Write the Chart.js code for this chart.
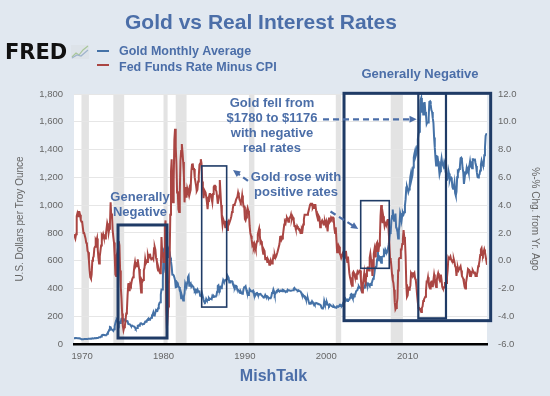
<!DOCTYPE html>
<html>
<head>
<meta charset="utf-8">
<script src="https://cdn.jsdelivr.net/npm/chart.js@4.4.1/dist/chart.umd.min.js"></script>
<style>
  html, body { margin: 0; padding: 0; background: #e1e8f0; }
  canvas { display: block; }
</style>
</head>
<body>
<canvas id="chart" width="550" height="396"></canvas>
<script>
// monthly series, first value = Jan 1969
const startYear = 1969;

// Gold monthly average, USD per troy ounce
const gold = [
  42.3,42.6,43.3,43.5,43.5,41.3,41.8,41.0,40.8,40.4,37.4,35.2,
  34.9,35.0,35.1,35.6,35.5,35.4,35.3,35.4,36.2,37.5,37.4,37.4,
  37.9,38.7,38.9,39.0,40.5,40.1,41.0,42.7,42.0,42.5,42.9,43.5,
  45.8,48.3,48.3,49.0,54.6,62.1,65.7,67.0,65.5,64.9,62.9,63.9,
  65.1,74.2,84.4,90.5,102,122.5,120.2,106.8,103,100.1,94.8,106.7,
  129.2,150.2,168.4,172.2,163.3,154.1,142.9,154.6,151.8,158.8,181.7,183.9,
  176.3,179.6,178.2,170,167,164.2,165.1,163.1,144.1,142.8,142.4,139.3,
  131.6,130.7,132.6,128.2,127,125.8,117.8,109.6,114.4,116,130.5,133.7,
  132.3,136.3,148.3,149.2,146.8,140.8,143.3,145,149.6,160.8,161.8,160.5,
  173.2,178.2,183.7,175.2,176.3,183.7,188.5,206.5,212.3,227.6,206.1,207.8,
  227.3,245.7,242.1,239.2,257.6,279.4,295,300.8,355.1,392,392.3,455.1,
  675,665,553,517,513,600,645,627,674,661,623,595,
  557,500,499,495,479,460,409,410,443,437,413,410,
  384,374,330,350,333,314,340,365,436,422,415,445,
  481,491,420,432,438,413,422,416,412,394,382,388,
  370,386,394,381,377,378,347,348,341,340,341,321,
  303,299,304,325,316,317,317,330,323,326,325,322,
  345,339,346,340,342,343,348,376,418,423,398,391,
  408,401,409,438,460,450,450,460,460,465,467,486,
  477,442,444,452,451,451,437,431,413,406,420,419,
  404,388,390,384,371,367,375,365,362,367,394,409,
  410,416,393,374,369,352,362,395,389,381,381,378,
  383,364,363,358,357,367,368,356,349,358,360,361,
  354,354,344,338,337,340,353,343,345,344,335,334,
  329,330,330,342,367,372,392,378,355,364,373,383,
  387,382,384,377,381,385,385,380,391,389,384,379,
  379,377,382,391,385,387,386,383,383,383,386,387,
  399,404,396,393,392,385,383,387,383,381,378,369,
  355,347,352,344,344,341,324,324,323,325,306,289,
  289,297,296,308,299,292,293,284,289,296,294,291,
  287,288,286,282,277,261,256,257,265,311,293,283,
  284,300,286,280,275,285,282,275,273,270,266,272,
  265,262,263,261,272,270,268,273,283,283,276,275,
  282,296,294,302,314,321,314,310,319,317,319,333,
  356,359,340,328,355,356,351,360,379,379,389,407,
  414,405,406,404,384,392,398,400,406,420,439,442,
  424,423,434,429,422,430,424,437,456,470,476,510,
  549,555,557,610,676,596,633,632,598,585,627,629,
  631,665,655,679,667,655,665,665,713,754,806,803,
  889,922,968,909,888,890,939,839,829,806,760,816,
  858,943,924,890,928,946,934,949,996,1043,1127,1134,
  1118,1095,1113,1148,1205,1232,1193,1215,1271,1343,1370,1391,
  1356,1372,1424,1474,1510,1529,1572,1756,1772,1666,1739,1652,
  1656,1742,1673,1650,1585,1596,1594,1630,1744,1747,1722,1684,
  1671,1627,1593,1487,1414,1343,1286,1352,1349,1316,1275,1222,
  1244,1300,1336,1299,1287,1279,1311,1296,1239,1222,1176,1201,
  1251,1227,1179,1198,1199,1182,1131,1117,1125,1159,1086,1068,
  1097,1200,1246,1242,1260,1276,1337,1341,1326,1267,1236,1152,
  1192,1234,1231,1267,1246,1260,1236,1283,1315,1280,1283,1265,
  1331,1331,1325,1334,1303,1282,1238,1202,1198,1215,1221,1250,
  1291,1320,1300,1286,1284,1359,1413,1500,1511,1510
];

// Fed funds rate minus CPI, percent
const realRate = [
  1.9,1.9,1.6,1.9,3.2,3.4,3.2,3.5,3.5,3.3,2.9,2.8,
  2.8,2.8,2.0,2.0,2.0,1.6,1.3,1.2,0.7,0.6,0.0,-0.7,
  -1.2,-1.3,-1.0,0.0,0.2,0.3,0.9,1.0,1.5,1.4,1.6,0.8,
  0.2,-0.2,0.3,0.7,1.1,1.8,1.7,1.9,1.7,1.6,1.6,1.9,
  2.3,2.7,2.5,2.0,2.3,2.6,4.2,3.1,3.4,2.2,1.7,1.3,
  0.3,-1.0,-1.1,0.4,0.6,1.0,1.4,1.1,-0.7,-1.9,-2.7,-3.8,
  -4.7,-5.0,-4.8,-4.7,-4.3,-3.8,-3.6,-2.5,-1.7,-1.6,-2.2,-1.7,
  -1.8,-1.5,-1.3,-1.2,-0.9,-0.4,-0.1,-0.4,-0.3,-0.4,0.1,-0.3,
  -0.6,-1.3,-1.7,-2.3,-1.4,-1.5,-1.4,-0.7,-0.5,0.1,-0.2,-0.1,
  -0.1,0.4,0.2,0.4,0.5,0.2,0.1,0.1,0.2,0.1,0.9,1.0,
  0.8,0.2,0.0,-0.5,-0.7,-0.6,-0.8,-0.9,-0.8,1.7,0.6,0.5,
  -0.1,-0.1,2.4,2.9,-3.4,-4.9,-4.1,-3.3,-1.7,0.0,3.3,6.4,
  7.3,4.5,4.2,5.7,8.7,9.5,8.2,7.0,4.9,5.0,3.7,3.5,
  4.8,7.2,7.9,8.4,7.8,7.1,6.2,4.2,5.3,4.6,4.6,5.2,
  5.0,5.0,5.2,4.9,5.1,6.4,6.9,7.0,6.6,6.6,6.0,5.7,
  5.4,5.0,5.1,5.7,6.1,6.9,7.0,7.3,7.0,5.7,5.3,4.5,
  4.9,5.0,4.9,4.6,4.2,3.7,4.3,4.6,4.8,4.8,4.6,4.5,
  4.2,4.8,5.3,5.4,5.4,5.1,5.0,4.6,4.1,4.4,4.7,5.8,
  4.9,4.0,3.1,2.6,3.0,3.0,2.7,2.4,2.8,2.8,2.2,2.4,
  2.8,2.7,2.7,3.0,3.2,3.5,3.7,4.0,4.0,4.1,4.2,4.4,
  4.4,4.6,4.9,4.7,4.4,4.3,4.2,4.3,4.7,4.3,3.9,3.9,
  3.0,2.9,3.1,3.6,3.8,3.6,3.4,2.5,2.0,1.8,1.5,1.1,
  1.2,1.0,1.2,1.0,0.8,1.2,1.4,1.9,2.1,2.3,1.8,1.3,
  1.4,1.3,0.8,0.5,0.8,0.7,0.1,0.2,0.2,-0.1,0.1,0.0,
  -0.3,-0.2,0.0,-0.2,-0.2,0.0,0.3,0.2,0.4,0.2,0.3,0.3,
  0.6,0.8,0.8,1.2,1.7,1.8,1.5,1.6,1.8,2.2,2.6,2.8,
  2.7,3.0,3.1,3.0,2.8,3.0,3.1,3.1,3.3,3.0,3.2,3.1,
  2.9,2.5,2.5,2.3,2.3,2.5,2.4,2.3,2.3,2.2,2.0,2.0,
  2.3,2.2,2.6,3.0,3.3,3.3,3.3,3.3,3.3,3.4,3.6,3.8,
  4.0,4.1,4.1,4.1,3.8,3.9,3.8,4.0,4.0,3.6,3.3,3.1,
  2.9,3.2,3.1,2.4,2.6,2.8,2.9,2.8,2.6,2.6,2.8,2.6,
  2.8,2.5,2.1,2.9,3.1,2.8,2.9,3.1,3.0,3.1,3.1,3.0,
  2.3,2.0,2.4,1.5,0.6,0.8,1.1,1.0,0.5,0.4,0.2,0.2,
  0.5,0.6,0.2,0.2,0.6,0.7,0.2,-0.1,0.3,-0.3,-0.9,-1.2,
  -1.4,-1.7,-1.8,-0.9,-0.8,-0.9,-1.1,-1.2,-1.3,-1.0,-0.8,-0.9,
  -0.9,-0.7,-0.7,-1.3,-2.1,-2.3,-1.7,-1.3,-0.9,-1.4,-1.6,-1.1,
  -0.7,-0.5,-0.5,-0.7,0.2,0.5,0.1,-0.1,-1.1,-0.5,0.5,0.8,
  0.3,0.9,1.2,1.3,0.7,0.7,1.1,1.5,3.2,4.0,3.3,2.7,
  3.2,2.9,2.5,2.7,2.6,2.6,2.9,3.0,2.1,1.3,0.2,0.1,
  -0.4,-1.0,-1.4,-1.6,-2.1,-3.0,-3.5,-3.4,-3.1,-2.7,-0.7,0.1,
  0.2,0.2,0.8,0.8,1.2,1.6,2.2,1.7,1.5,0.3,-1.7,-2.6,
  -2.5,-2.0,-2.1,-2.0,-1.8,-0.9,-1.0,-0.9,-0.9,-1.0,-0.9,-1.3,
  -1.4,-1.9,-2.5,-3.0,-3.4,-3.4,-3.5,-3.6,-3.7,-3.4,-3.3,-2.9,
  -2.8,-2.7,-2.6,-2.2,-1.5,-1.5,-1.2,-1.6,-1.9,-2.0,-1.6,-1.5,
  -1.5,-1.9,-1.4,-1.0,-1.3,-1.7,-1.9,-1.4,-1.1,-0.9,-1.1,-1.4,
  -1.5,-1.0,-1.4,-1.9,-2.0,-2.0,-1.9,-1.6,-1.6,-1.6,-1.2,-0.7,
  0.2,0.1,0.2,0.3,0.1,0.0,-0.1,-0.1,0.1,-0.1,-0.4,-0.5,
  -1.1,-0.6,-0.5,-0.7,-0.6,-0.6,-0.4,-0.7,-1.1,-1.2,-1.3,-1.6,
  -1.9,-2.0,-1.6,-1.3,-1.0,-0.6,-0.6,-0.7,-1.1,-0.9,-1.0,-0.8,
  -0.7,-0.8,-0.9,-0.8,-1.1,-1.1,-1.0,-0.8,-0.4,-0.3,0.0,0.4,
  0.8,0.9,0.5,0.4,0.6,0.8,0.6,0.3,0.0,-0.3
];

// recession shading, start/end in years
const recessions = [
  [1969.917, 1970.833], [1973.833, 1975.167], [1980.0, 1980.5],
  [1981.5, 1982.833], [1990.5, 1991.167], [2001.167, 2001.833],
  [2007.917, 2009.417]
];

const xTicks = [1970, 1980, 1990, 2000, 2010];
const goldTicks = [0, 200, 400, 600, 800, 1000, 1200, 1400, 1600, 1800];
const rateTicks = [-6, -4, -2, 0, 2, 4, 6, 8, 10, 12];

// annotation boxes in data units (years, gold $)
const boxes = [
  { x0: 1974.41, x1: 1980.43, y0: 43,  y1: 857,  w: 3 },
  { x0: 1984.69, x1: 1987.76, y0: 266, y1: 1282, w: 1.6 },
  { x0: 2004.23, x1: 2007.74, y0: 545, y1: 1032, w: 1.6 },
  { x0: 2002.18, x1: 2020.2,  y0: 168, y1: 1805, w: 3 },
  { x0: 2011.31, x1: 2014.71, y0: 185, y1: 1805, w: 2.2 }
];
const notes = [
  { x: 1977.11, y: 1058, lines: ['Generally', 'Negative'] },
  { x: 2011.52, y: 1944, lines: ['Generally Negative'] },
  { x: 1993.33, y: 1733, lines: ['Gold fell from', '$1780 to $1176', 'with negative', 'real rates'] },
  { x: 1996.28, y: 1202, lines: ['Gold rose with', 'positive rates'] }
];
const arrows = [
  { x0: 1999.6,  y0: 1618, x1: 2011.11, y1: 1618 },
  { x0: 1990.38, y0: 1174, x1: 1988.54, y1: 1253 },
  { x0: 2000.52, y0: 954,  x1: 2003.93, y1: 828 }
];

const BLUE = '#4572a7';
const RED = '#aa4643';
const TEXT_BLUE = '#4b6ea8';
const NAVY = '#1f3b66';
const FONT = '"Liberation Sans", Arial, sans-serif';

Chart.defaults.font.family = FONT;
Chart.defaults.color = '#666';

const monthX = i => startYear + i / 12;
const goldPts = gold.map((v, i) => ({ x: monthX(i), y: v }));
const ratePts = realRate.map((v, i) => ({ x: monthX(i), y: v }));

const backdrop = {
  id: 'backdrop',
  beforeDraw(chart) {
    const { ctx, chartArea: a, scales: { x } } = chart;
    ctx.save();
    ctx.fillStyle = '#e1e8f0';
    ctx.fillRect(0, 0, chart.width, chart.height);
    ctx.fillStyle = '#ffffff';
    ctx.fillRect(a.left, a.top, a.right - a.left, a.bottom - a.top);
    ctx.fillStyle = '#e3e3e3';
    recessions.forEach(([s, e]) => {
      const l = x.getPixelForValue(s), r = x.getPixelForValue(e);
      ctx.fillRect(l, a.top, r - l, a.bottom - a.top);
    });
    ctx.restore();
  }
};

function arrow(ctx, x0, y0, x1, y1) {
  const ang = Math.atan2(y1 - y0, x1 - x0);
  const head = 8;
  ctx.beginPath();
  ctx.setLineDash([6, 4]);
  ctx.moveTo(x0, y0);
  ctx.lineTo(x1 - Math.cos(ang) * head * 0.8, y1 - Math.sin(ang) * head * 0.8);
  ctx.stroke();
  ctx.setLineDash([]);
  ctx.beginPath();
  ctx.moveTo(x1, y1);
  ctx.lineTo(x1 - head * Math.cos(ang - 0.45), y1 - head * Math.sin(ang - 0.45));
  ctx.lineTo(x1 - head * Math.cos(ang + 0.45), y1 - head * Math.sin(ang + 0.45));
  ctx.closePath();
  ctx.fill();
}

const annotations = {
  id: 'annotations',
  afterDatasetsDraw(chart) {
    const { ctx, scales: { x, y } } = chart;
    ctx.save();
    ctx.strokeStyle = NAVY;
    boxes.forEach(b => {
      const l = x.getPixelForValue(b.x0), r = x.getPixelForValue(b.x1);
      const t = y.getPixelForValue(b.y1), btm = y.getPixelForValue(b.y0);
      ctx.lineWidth = b.w;
      ctx.strokeRect(l, t, r - l, btm - t);
    });
    ctx.fillStyle = TEXT_BLUE;
    ctx.font = 'bold 13px ' + FONT;
    ctx.textAlign = 'center';
    ctx.textBaseline = 'middle';
    notes.forEach(n => {
      const px = x.getPixelForValue(n.x), py = y.getPixelForValue(n.y);
      n.lines.forEach((s, k) => ctx.fillText(s, px, py + k * 15.2));
    });
    ctx.strokeStyle = TEXT_BLUE;
    ctx.lineWidth = 2.2;
    arrows.forEach(a => arrow(ctx,
      x.getPixelForValue(a.x0), y.getPixelForValue(a.y0),
      x.getPixelForValue(a.x1), y.getPixelForValue(a.y1)));
    ctx.restore();
  }
};

const header = {
  id: 'header',
  afterDraw(chart) {
    const { ctx } = chart;
    ctx.save();
    ctx.fillStyle = TEXT_BLUE;
    ctx.font = 'bold 21px ' + FONT;
    ctx.textAlign = 'center';
    ctx.textBaseline = 'middle';
    ctx.fillText('Gold vs Real Interest Rates', 261, 23);

    ctx.font = 'bold 16px ' + FONT;
    ctx.fillText('MishTalk', 273.5, 377);

    // FRED logo
    ctx.textAlign = 'left';
    ctx.textBaseline = 'alphabetic';
    ctx.fillStyle = '#111';
    ctx.font = 'bold 21px "DejaVu Sans", sans-serif';
    ctx.fillText('FRED', 5, 59);
    ctx.fillStyle = '#dde3e9';
    ctx.fillRect(71, 45, 18, 14);
    ctx.lineWidth = 1.2;
    ctx.strokeStyle = '#a9c79a';
    ctx.beginPath();
    ctx.moveTo(72, 57); ctx.lineTo(76, 53); ctx.lineTo(79, 55); ctx.lineTo(83, 50); ctx.lineTo(88, 46);
    ctx.stroke();
    ctx.strokeStyle = '#9fb4cc';
    ctx.beginPath();
    ctx.moveTo(72, 58); ctx.lineTo(77, 55); ctx.lineTo(81, 56); ctx.lineTo(88, 50);
    ctx.stroke();

    // legend
    ctx.lineWidth = 2;
    ctx.strokeStyle = BLUE;
    ctx.beginPath(); ctx.moveTo(97, 51); ctx.lineTo(109, 51); ctx.stroke();
    ctx.strokeStyle = RED;
    ctx.beginPath(); ctx.moveTo(97, 65); ctx.lineTo(109, 65); ctx.stroke();
    ctx.fillStyle = TEXT_BLUE;
    ctx.font = 'bold 12.5px ' + FONT;
    ctx.textBaseline = 'middle';
    ctx.fillText('Gold Monthly Average', 119, 52);
    ctx.fillText('Fed Funds Rate Minus CPI', 119, 67.5);
    ctx.restore();
  }
};

new Chart(document.getElementById('chart'), {
  type: 'line',
  data: {
    datasets: [
      {
        label: 'Gold Monthly Average',
        data: goldPts,
        yAxisID: 'y',
        borderColor: BLUE,
        borderWidth: 2,
        pointRadius: 0,
        tension: 0,
        order: 1
      },
      {
        label: 'Fed Funds Rate Minus CPI',
        data: ratePts,
        yAxisID: 'y1',
        borderColor: RED,
        borderWidth: 2,
        pointRadius: 0,
        tension: 0,
        order: 0
      }
    ]
  },
  options: {
    responsive: false,
    animation: false,
    layout: { padding: { top: 94, left: 0, right: 0, bottom: 0 } },
    plugins: {
      legend: { display: false },
      title: { display: false },
      tooltip: { enabled: false }
    },
    scales: {
      x: {
        type: 'linear',
        min: startYear,
        max: monthX(gold.length - 1),
        afterBuildTicks: s => { s.ticks = xTicks.map(v => ({ value: v })); },
        afterFit: s => { s.height = 52; },
        ticks: { callback: v => String(v), font: { size: 9.5 }, color: '#666', padding: 7, maxRotation: 0 },
        grid: { display: false, drawTicks: false },
        border: { display: true, color: '#000', width: 2.5 }
      },
      y: {
        position: 'left',
        min: 0,
        max: 1800,
        afterBuildTicks: s => { s.ticks = goldTicks.map(v => ({ value: v })); },
        afterFit: s => { s.width = 74; },
        ticks: { callback: v => v.toLocaleString('en-US'), font: { size: 9.5 }, color: '#666', padding: 11 },
        grid: { color: '#e6e6e6', drawTicks: false },
        border: { display: false },
        title: {
          display: true,
          text: 'U.S. Dollars per Troy Ounce',
          color: '#666',
          font: { size: 10 },
          padding: { top: 14, bottom: 0 }
        }
      },
      y1: {
        position: 'right',
        min: -6,
        max: 12,
        afterBuildTicks: s => { s.ticks = rateTicks.map(v => ({ value: v })); },
        afterFit: s => { s.width = 63; },
        ticks: { callback: v => v.toFixed(1), font: { size: 9.5 }, color: '#666', padding: 11 },
        grid: { display: false, drawTicks: false },
        border: { display: false },
        title: {
          display: true,
          text: '%-% Chg. from Yr. Ago',
          color: '#666',
          font: { size: 10 },
          padding: { top: 9, bottom: 0 }
        }
      }
    }
  },
  plugins: [backdrop, annotations, header]
});
</script>
</body>
</html>
